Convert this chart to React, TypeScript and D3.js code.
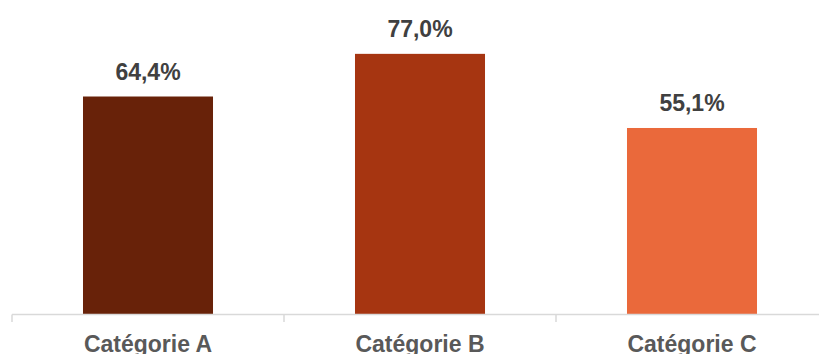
import React from "react";
import * as d3 from "d3";

const categories = ["Catégorie A", "Catégorie B", "Catégorie C"];
const values = [64.4, 77.0, 55.1];
const valueLabels = ["64,4%", "77,0%", "55,1%"];
const colors = ["#682209", "#A63511", "#EA693B"];

const W = 819;
const H = 354;

export default function App() {
  const x = d3
    .scaleBand<string>()
    .domain(categories)
    .range([12, 828])
    .paddingInner(0.522)
    .paddingOuter(0.261);
  const y = d3.scaleLinear().domain([0, 90]).range([314.5, 9.85]);
  const step = x.step();
  const x0 = 12;
  const tickXs = d3.range(categories.length + 1).map((i) => x0 + i * step);

  return (
    <svg
      width={W}
      height={H}
      style={{ position: "absolute", left: 0, top: 0, background: "#fff" }}
      fontFamily="'Liberation Sans', Arial, sans-serif"
    >
      {categories.map((c, i) => (
        <rect
          key={c}
          x={x(c)}
          y={y(values[i])}
          width={x.bandwidth()}
          height={y(0) - y(values[i])}
          fill={colors[i]}
        />
      ))}
      <line x1={12} x2={W} y1={314.5} y2={314.5} stroke="#D9D9D9" strokeWidth={1.5} />
      {tickXs.map((tx, i) => (
        <line key={i} x1={tx} x2={tx} y1={314.5} y2={322} stroke="#D9D9D9" strokeWidth={1.5} />
      ))}
      {categories.map((c, i) => (
        <text
          key={"v" + c}
          x={(x(c) as number) + x.bandwidth() / 2}
          y={y(values[i]) - 17}
          textAnchor="middle"
          fontSize={23}
          fontWeight="bold"
          fill="#404040"
        >
          {valueLabels[i]}
        </text>
      ))}
      {categories.map((c) => (
        <text
          key={"c" + c}
          x={(x(c) as number) + x.bandwidth() / 2}
          y={352}
          textAnchor="middle"
          fontSize={23}
          fontWeight="bold"
          fill="#595959"
        >
          {c}
        </text>
      ))}
    </svg>
  );
}
